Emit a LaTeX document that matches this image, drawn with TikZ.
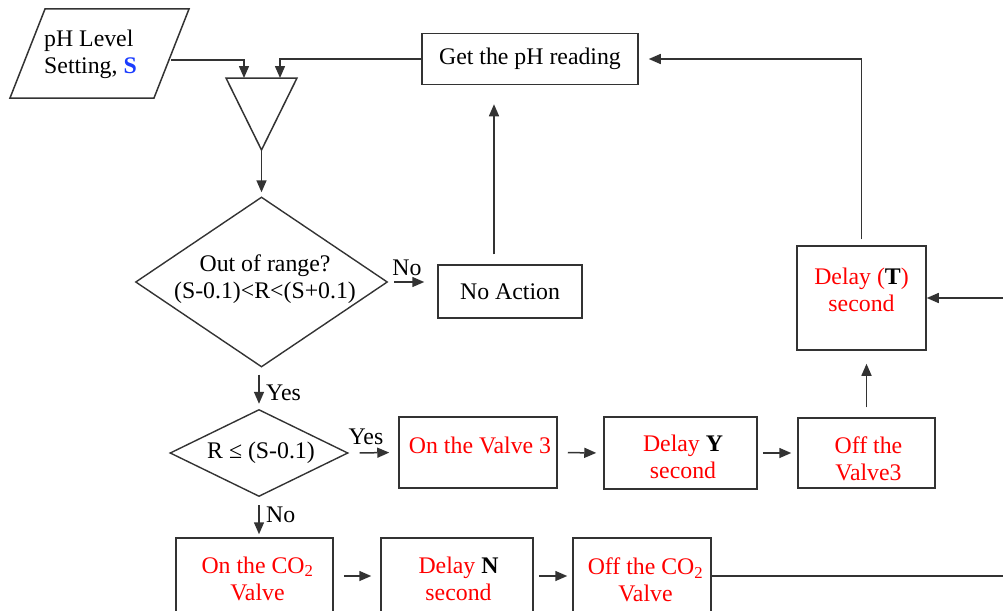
\documentclass[tikz,border=0pt]{standalone}
\usepackage{fontspec}
\setmainfont{Liberation Serif}
\usetikzlibrary{arrows.meta,shapes.geometric}
\definecolor{ink}{HTML}{333333}
\definecolor{vred}{HTML}{FF0000}
\definecolor{sblue}{HTML}{1A3CFF}
\tikzset{
  every node/.style={font=\fontsize{23.8}{27}\selectfont, inner sep=0pt},
  box/.style={draw=ink, line width=1.5pt, rectangle},
  dec/.style={draw=ink, line width=1.4pt, diamond, inner sep=0pt},
  link/.style={draw=ink, line width=1.5pt},
  arr/.style={link, -{Triangle[length=12pt,width=10pt]}},
  lbl/.style={align=center},
  act/.style={align=center, text=vred},
}
\begin{document}
\begin{tikzpicture}[x=1pt,y=-1pt]
\clip (0,0) rectangle (1003,610);

% input: set point
\coordinate (pTL) at (45,9);
\coordinate (pTR) at (189,9);
\coordinate (pBR) at (154,98);
\coordinate (pBL) at (10,98);
\draw[link] (pTL) -- (pTR) -- (pBR) -- (pBL) -- cycle;
\node[anchor=west, align=left] (setp) at (44,54) {pH Level\\Setting, \textcolor{sblue}{\textbf{S}}};
\coordinate (pOut) at (171,60);

% merge triangle
\coordinate (mTL) at (226,78);
\coordinate (mTR) at (297,78);
\coordinate (mB) at (261.5,150);
\coordinate (mIn1) at (244,78);
\coordinate (mIn2) at (280,78);
\draw[link] (mTL) -- (mTR) -- (mB) -- cycle;

% boxes and decisions
\node[box, minimum width=216, minimum height=51] (get) at (530,59) {Get the pH reading};

\node[dec, minimum width=252, minimum height=170] (d1) at (261.5,282) {};
\node[lbl] (d1t) at (265,279) {Out of range?\\(S-0.1)<R<(S+0.1)};

\node[box, minimum width=144, minimum height=53] (noact) at (510,291.5) {No Action};

\node[box, minimum width=129, minimum height=104] (delT) at (861.5,298) {};
\node[act] (delTt) at (861.5,290) {Delay (\textcolor{black}{\textbf{T}})\\second};

\node[dec, minimum width=178, minimum height=87] (d2) at (259,453) {};
\node (d2t) at (261,453) {R ≤ (S-0.1)};

\node[box, minimum width=158, minimum height=71] (v3on) at (478,452.5) {};
\node[act] (v3ont) at (480,445) {On the Valve 3};

\node[box, minimum width=153, minimum height=72] (delY) at (680.5,453) {};
\node[act] (delYt) at (683,457) {Delay \textcolor{black}{\textbf{Y}}\\second};

\node[box, minimum width=137, minimum height=70] (v3off) at (866.5,453) {};
\node[act] (v3offt) at (868.5,459) {Off the\\Valve3};

\node[box, minimum width=157, minimum height=76] (co2on) at (254.5,576) {};
\node[act] (co2ont) at (257.5,578.5) {On the CO\textsubscript{2}\\Valve};

\node[box, minimum width=152, minimum height=76] (delN) at (457,576) {};
\node[act] (delNt) at (458.5,578.5) {Delay \textcolor{black}{\textbf{N}}\\second};

\node[box, minimum width=138, minimum height=76] (co2off) at (642,576) {};
\node[act] (co2offt) at (645.5,580) {Off the CO\textsubscript{2}\\Valve};

\coordinate (feedR) at (1003,298);
\coordinate (outR) at (1003,573);

% connectors
\draw[arr] (pOut) -| (mIn1);
\draw[arr] (get.west) -| (mIn2);
\draw[arr, shorten >=4] (mB) -- (d1.north);
\draw[arr, shorten <=6, shorten >=13] (d1.east) -- (d1.east -| noact.west);
\node (no1) at (407,268) {No};
\draw[arr, shorten <=10, shorten >=19] ([xshift=-16pt]noact.north) -- ([xshift=-16pt]noact.north |- get.south);
\draw[arr, shorten <=6, shorten >=10] (delT.north) |- (get.east);
\draw[arr] (feedR) -- (delT.east);

\draw[arr, shorten <=7, shorten >=5] (d1.south -| d2.north) -- (d2.north);
\node[anchor=west] (yes1) at (266,393) {Yes};

\draw[arr, shorten <=11, shorten >=9] (d2.east) -- (v3on.west);
\node (yes2) at (366,437) {Yes};
\draw[arr, shorten <=10, shorten >=7] (v3on.east) -- (delY.west);
\draw[arr, shorten <=5, shorten >=6] (delY.east) -- (v3off.west);
\draw[arr, shorten <=10, shorten >=13] (v3off.north) -- (v3off.north |- delT.south);

\draw[arr, shorten <=8, shorten >=3] (d2.south) -- (d2.south |- co2on.north);
\node[anchor=west] (no2) at (266,515) {No};
\draw[arr, shorten <=10, shorten >=9] (co2on.east) -- (delN.west);
\draw[arr, shorten <=5, shorten >=5] (delN.east) -- (co2off.west);
\draw[link] (co2off.east) -- (co2off.east -| outR);
\end{tikzpicture}
\end{document}
